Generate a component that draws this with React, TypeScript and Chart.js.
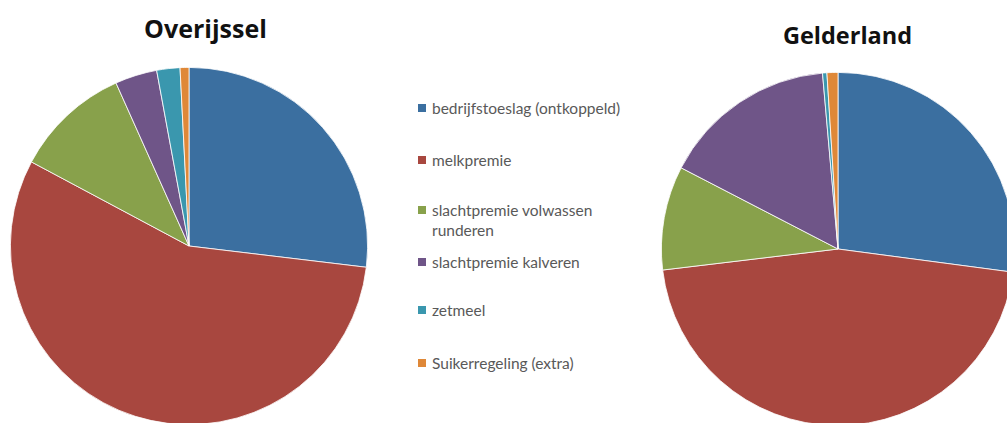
import React, { useEffect, useRef } from "react";
import { Chart, registerables } from "chart.js";

Chart.register(...registerables);

const categories = [
  "bedrijfstoeslag (ontkoppeld)",
  "melkpremie",
  "slachtpremie volwassen runderen",
  "slachtpremie kalveren",
  "zetmeel",
  "Suikerregeling (extra)",
];
const overijsselValues = [26.9, 55.9, 10.5, 3.8, 2.1, 0.8];
const gelderlandValues = [27.1, 46.0, 9.5, 16.0, 0.4, 1.0];
const colors = ["#3B6FA0", "#A8473F", "#88A14B", "#6F5588", "#3A97AE", "#DF8838"];

function Pie({ values, style }: { values: number[]; style: React.CSSProperties }) {
  const ref = useRef<HTMLCanvasElement>(null);
  useEffect(() => {
    if (!ref.current) return;
    const chart = new Chart(ref.current, {
      type: "pie",
      data: {
        labels: categories,
        datasets: [
          {
            data: values,
            backgroundColor: colors,
            borderColor: "#ffffff",
            borderWidth: 0.8,
          },
        ],
      },
      options: {
        animation: false,
        responsive: false,
        maintainAspectRatio: false,
        layout: { padding: 0 },
        plugins: {
          legend: { display: false },
          title: { display: false },
          tooltip: { enabled: false },
        },
      },
    });
    return () => chart.destroy();
  }, [values]);
  const w = style.width as number;
  const h = style.height as number;
  return <canvas ref={ref} width={w} height={h} style={{ position: "absolute", ...style }} />;
}

const titleStyle: React.CSSProperties = {
  position: "absolute",
  fontFamily: "'Open Sans', Lato, sans-serif",
  fontWeight: 700,
  color: "#111",
  textAlign: "center",
  width: 200,
  lineHeight: "24px",
  whiteSpace: "nowrap",
};

export default function App() {
  const legendY = [108, 160, 220, 262, 310, 363];
  return (
    <div
      style={{
        position: "fixed",
        left: 0,
        top: 0,
        width: 1007,
        height: 423,
        overflow: "hidden",
        background: "#ffffff",
      }}
    >
      <div style={{ ...titleStyle, fontSize: 25, left: 105.5, top: 16 }}>Overijssel</div>
      <div style={{ ...titleStyle, fontSize: 23.5, left: 747.5, top: 23 }}>Gelderland</div>
      <Pie values={overijsselValues} style={{ left: 10, top: 67, width: 358, height: 358 }} />
      <Pie values={gelderlandValues} style={{ left: 661, top: 72, width: 354, height: 354 }} />
      {categories.map((c, i) => {
        const twoLine = i === 2;
        return (
          <div
            key={c}
            style={{
              position: "absolute",
              left: 418,
              top: legendY[i] - (twoLine ? 20 : 10),
              width: 240,
              fontFamily: "Lato, 'Open Sans', sans-serif",
              fontSize: 15.5,
              lineHeight: "20px",
              color: "#595959",
            }}
          >
            <span
              style={{
                position: "absolute",
                left: 0,
                top: 6,
                width: 8,
                height: 8,
                background: colors[i],
              }}
            />
            <div
              style={{
                marginLeft: 14,
                width: twoLine ? 175 : 226,
                whiteSpace: twoLine ? "normal" : "nowrap",
              }}
            >
              {c}
            </div>
          </div>
        );
      })}
    </div>
  );
}
